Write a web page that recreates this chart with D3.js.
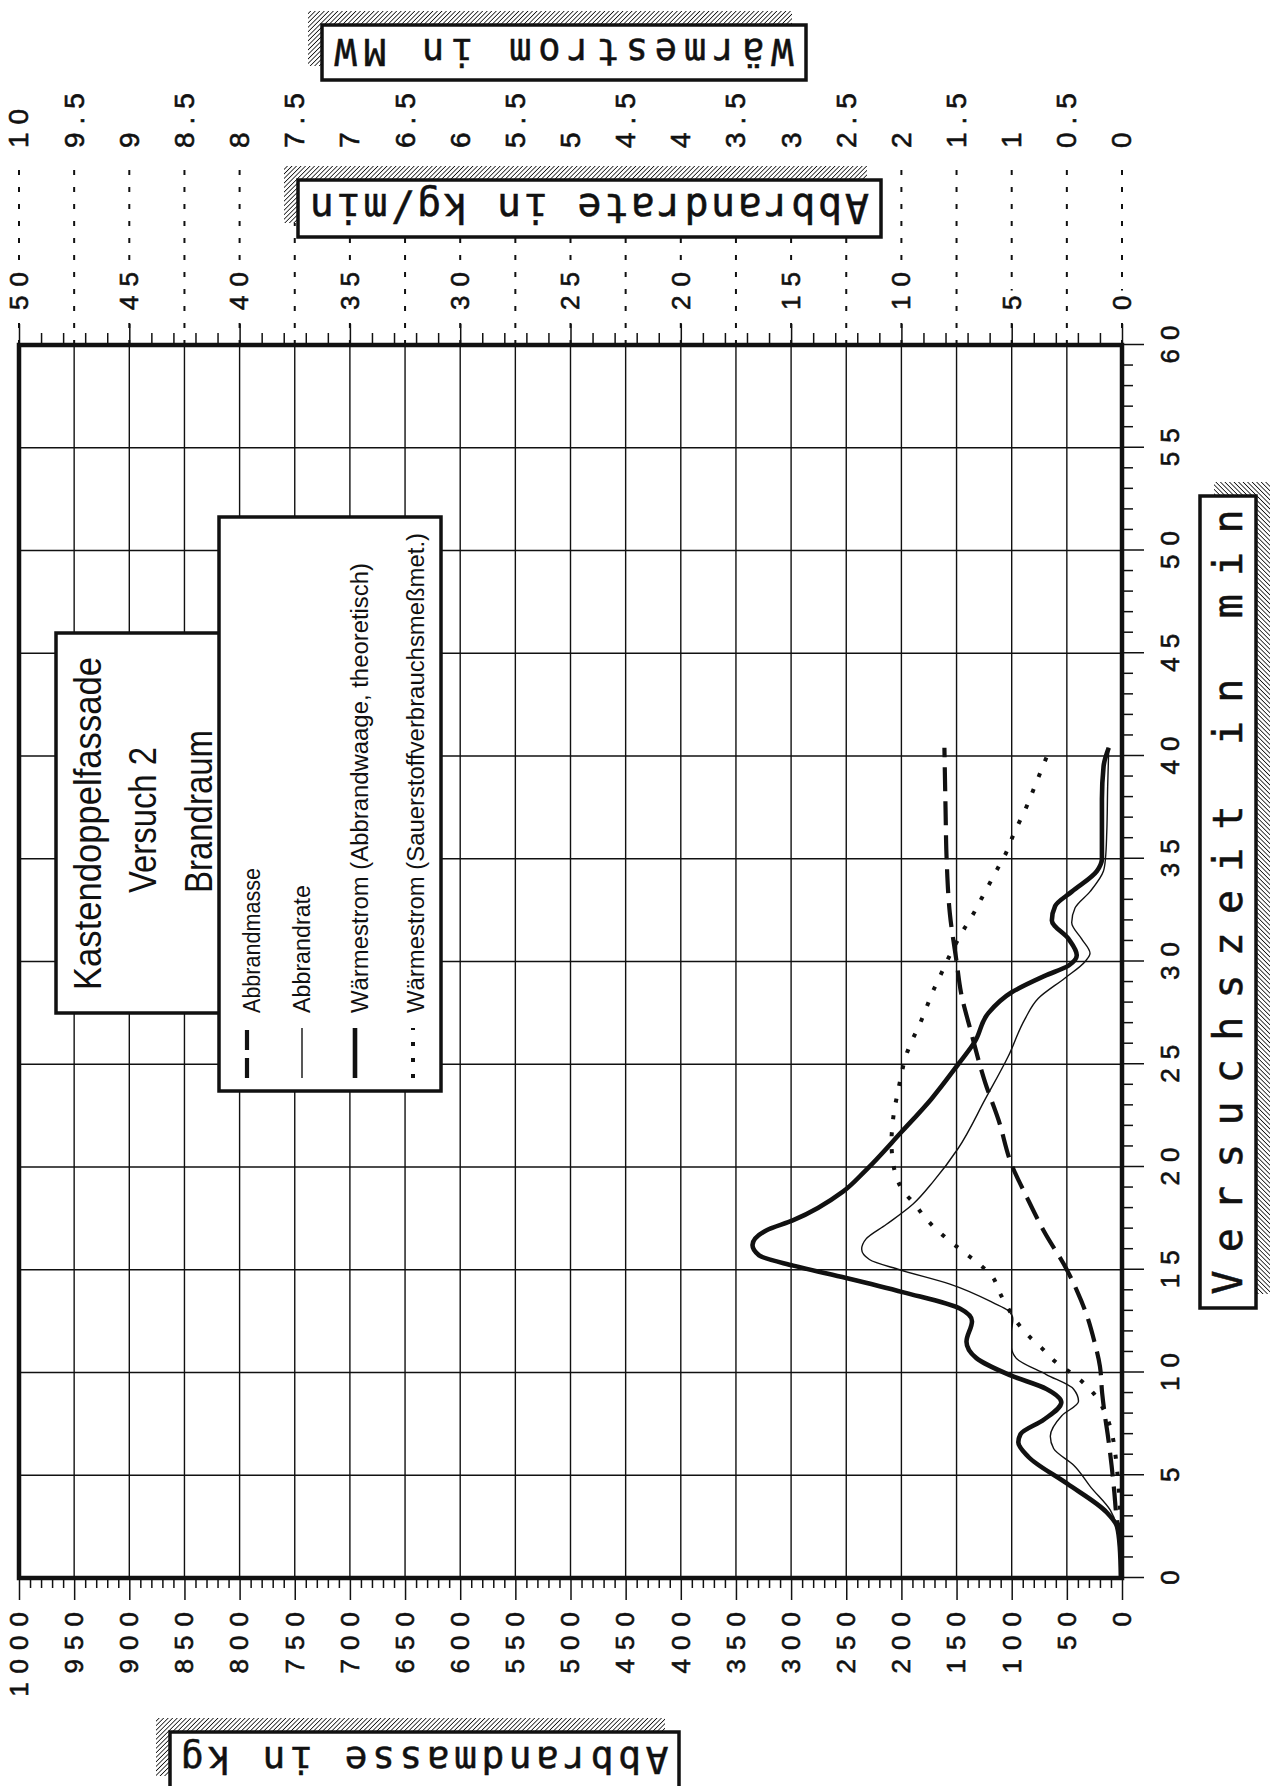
<!DOCTYPE html>
<html>
<head>
<meta charset="utf-8">
<script src="https://cdn.jsdelivr.net/npm/d3@7"></script>
<style>
  html, body { margin: 0; padding: 0; background: #fff; }
  svg { display: block; }
</style>
</head>
<body>
<svg id="chart" width="1275" height="1786"></svg>
<script>
// ---- Tick values -------------------------------------------------------
const timeTicks  = [0, 5, 10, 15, 20, 25, 30, 35, 40, 45, 50, 55, 60];
const massTicks  = [0, 50, 100, 150, 200, 250, 300, 350, 400, 450, 500,
                    550, 600, 650, 700, 750, 800, 850, 900, 950, 1000];
const rateTicks  = [0, 5, 10, 15, 20, 25, 30, 35, 40, 45, 50];
const powerTicks = [0, 0.5, 1, 1.5, 2, 2.5, 3, 3.5, 4, 4.5, 5, 5.5, 6, 6.5,
                    7, 7.5, 8, 8.5, 9, 9.5, 10];

// ---- Series: Abbrandmasse (kg) ------------------------------------------
const minutesMasse = [0, 2, 3, 4.2, 5.5, 7, 7.9, 9, 10.3, 11.5, 12.8, 14, 15,
                      16.9, 18.5, 20.1, 22.3, 24.1, 26.6, 28.5, 30, 32.3, 35, 37.5, 40.4];
const abbrandmasse = [0, 2, 5, 7, 9.5, 13, 15.5, 18, 20, 25, 32, 41, 50,
                      71, 86, 100, 112, 124, 137, 146, 150, 156, 159, 160, 161];

// ---- Series: Abbrandrate (kg/min) ---------------------------------------
const minutesRate = [0, 2.0, 3.3, 4.4, 5.5, 6.3, 6.9, 7.9, 8.6, 9.2, 9.9, 10.7,
                     11.2, 12.0, 12.6, 13.0, 13.4, 14.3, 15.0, 15.5, 16.0, 16.5,
                     17.2, 18.2, 19.3, 20.9, 23.3, 25.4, 27.2, 28.2, 29.2, 30.0,
                     30.4, 31.1, 31.9, 32.6, 33.4, 34.4, 35.0, 36.3, 38.5, 40.4];
const abbrandrate = [0.05, 0.15, 0.53, 1.4, 2.2, 3.1, 3.25, 2.73, 1.97, 2.2, 3.43, 4.8,
                     5.0, 5.0, 4.95, 5.15, 5.85, 7.8, 10.08, 11.45, 11.8, 11.6,
                     10.69, 9.47, 8.55, 7.43, 6.2, 5.15, 4.4, 3.8, 2.58, 1.67,
                     1.45, 1.83, 2.28, 2.13, 1.45, 0.84, 0.75, 0.69, 0.65, 0.6];

// ---- Series: Wärmestrom aus Abbrandwaage, theoretisch (MW) --------------
const minutesWaage = [0, 1.5, 2.5, 3.2, 4.6, 5.9, 6.6, 7.0, 7.7, 8.55, 9.2, 9.85,
                      10.7, 11.5, 12.5, 13.1, 13.9, 14.6, 15.2, 15.7, 16.2, 16.9,
                      17.4, 18.8, 19.8, 21.7, 23.3, 25.0, 26.1, 27.5, 28.5, 29.3,
                      29.8, 30.3, 31.1, 32.0, 32.7, 33.4, 34.4, 35.0, 37.9, 39.5, 40.4];
const waermestromWaage = [0.01, 0.02, 0.045, 0.14, 0.50, 0.85, 0.94, 0.92, 0.71, 0.55, 0.685, 1.005,
                          1.32, 1.41, 1.36, 1.466, 1.98, 2.50, 2.98, 3.29, 3.35, 3.23,
                          2.985, 2.53, 2.33, 2.00, 1.73, 1.485, 1.334, 1.21, 1.00, 0.70,
                          0.485, 0.41, 0.485, 0.636, 0.606, 0.455, 0.228, 0.182, 0.182, 0.167, 0.12];

// ---- Series: Wärmestrom aus Sauerstoffverbrauchsmessung (MW) ------------
const minutesO2 = [2.5, 3, 4, 5, 6, 7, 8, 9.0, 9.6, 10.6, 11.2, 11.8, 12.5, 13.1,
                   13.9, 14.7, 15.3, 15.8, 16.3, 16.9, 17.5, 18.2, 18.8, 19.6,
                   20.4, 21.2, 22.1, 22.9, 23.7, 24.5, 25.4, 26.2, 27.0, 27.8,
                   28.6, 29.4, 30.1, 31.6, 32.3, 33.1, 33.8, 34.6, 35.3, 36.1,
                   37.6, 38.4, 39.2, 40.0];
const waermestromO2 = [0.01, 0.015, 0.025, 0.04, 0.06, 0.09, 0.15, 0.26, 0.37, 0.62, 0.73, 0.85, 0.96, 1.03,
                       1.11, 1.18, 1.30, 1.42, 1.54, 1.67, 1.78, 1.88, 1.98, 2.05,
                       2.08, 2.09, 2.08, 2.06, 2.03, 2.00, 1.96, 1.90, 1.83, 1.77,
                       1.71, 1.64, 1.58, 1.43, 1.35, 1.27, 1.20, 1.12, 1.05, 0.99,
                       0.86, 0.80, 0.74, 0.68];

// ---- Legend entries ------------------------------------------------------
const legendLabels = ["Abbrandmasse", "Abbrandrate",
                      "Wärmestrom (Abbrandwaage, theoretisch)",
                      "Wärmestrom (Sauerstoffverbrauchsmeßmet.)"];

// ---------------------------------------------------------------------------
const svg = d3.select("#chart");
const W = 1233;   // time extent of the plot
const H = 1103;   // value extent of the plot
const INK = "#111";
const FONT = "'Liberation Sans', Arial, sans-serif";
const MONO = "'DejaVu Sans Mono', 'Liberation Mono', monospace";

// hatching for the shadow of the axis title boxes
const defs = svg.append("defs");
const pat = defs.append("pattern").attr("id", "hatch")
  .attr("patternUnits", "userSpaceOnUse").attr("width", 3.2).attr("height", 3.2)
  .attr("patternTransform", "rotate(45)");
pat.append("rect").attr("width", 3.2).attr("height", 3.2).attr("fill", "#fff");
pat.append("line").attr("x1", 0).attr("y1", 0).attr("x2", 0).attr("y2", 3.2)
  .attr("stroke", "#000").attr("stroke-width", 1.5);

// The sheet is printed in landscape: the plot is laid out with time along x
// and turned a quarter turn counter-clockwise onto the portrait page.
const g = svg.append("g").attr("transform", "translate(19,1578) rotate(-90)");

const x     = d3.scaleLinear().domain([0, 60]).range([0, W]);
const y     = d3.scaleLinear().domain([0, 1000]).range([H, 0]);
const yRate = d3.scaleLinear().domain([0, 50]).range([H, 0]);
const yPow  = d3.scaleLinear().domain([0, 10]).range([H, 0]);

// ---- grid ---------------------------------------------------------------
const grid = g.append("g").attr("stroke", INK).attr("stroke-width", 1.4);
grid.selectAll("line.gt").data(timeTicks).join("line")
  .attr("x1", d => x(d)).attr("x2", d => x(d)).attr("y1", 0).attr("y2", H);
grid.selectAll("line.gm").data(massTicks).join("line")
  .attr("y1", d => y(d)).attr("y2", d => y(d)).attr("x1", 0).attr("x2", W);

function styleAxis(sel, fs, ls) {
  sel.select(".domain").remove();
  sel.selectAll("line").attr("stroke", INK).attr("stroke-width", 1.5);
  sel.selectAll("text").attr("fill", INK).attr("font-family", FONT)
    .attr("font-size", fs).style("letter-spacing", ls + "px")
    .attr("stroke", INK).attr("stroke-width", 0.6);
}

// minor ticks
const minorT = g.append("g").attr("transform", `translate(0,${H})`)
  .call(d3.axisBottom(x).tickValues(d3.range(0, 61, 1).filter(d => d % 5)).tickSize(11).tickFormat(""));
styleAxis(minorT, 10, 0);
const minorM = g.append("g")
  .call(d3.axisLeft(y).tickValues(d3.range(0, 1001, 10).filter(d => d % 50)).tickSize(10).tickFormat(""));
styleAxis(minorM, 10, 0);
const minorR = g.append("g").attr("transform", `translate(${W},0)`)
  .call(d3.axisRight(yRate).tickValues(d3.range(0, 51, 1).filter(d => d % 5)).tickSize(12).tickFormat(""));
styleAxis(minorR, 10, 0);

// time axis (Versuchszeit)
const LS = 9;
const axT = g.append("g").attr("transform", `translate(0,${H})`)
  .call(d3.axisBottom(x).tickValues(timeTicks).tickSize(22).tickPadding(17).tickFormat(d3.format("d")));
styleAxis(axT, 26, LS);
axT.selectAll("text").attr("dx", LS / 2);

// mass axis (Abbrandmasse)
const axM = g.append("g")
  .call(d3.axisLeft(y).tickValues(massTicks).tickSize(22).tickPadding(12).tickFormat(d3.format("d")));
styleAxis(axM, 26, LS);
axM.selectAll("text").attr("dx", LS);

// dotted guide lines up to the power scale
g.append("g").selectAll("line").data(powerTicks).join("line")
  .attr("x1", W).attr("x2", W + 182)
  .attr("y1", d => yPow(d)).attr("y2", d => yPow(d))
  .attr("stroke", INK).attr("stroke-width", 2).attr("stroke-dasharray", "5,12");

// rate axis (Abbrandrate)
const axR = g.append("g").attr("transform", `translate(${W},0)`)
  .call(d3.axisRight(yRate).tickValues(rateTicks).tickSize(21).tickPadding(14).tickFormat(d3.format("d")));
styleAxis(axR, 26, LS);
axR.selectAll(".tick").each(function () {
  const t = d3.select(this);
  const bb = t.select("text").node().getBBox();
  t.insert("rect", "text").attr("x", 22).attr("y", bb.y - 3)
    .attr("width", bb.x + bb.width - 22 - 4).attr("height", bb.height + 6).attr("fill", "#fff");
});

// power axis (Wärmestrom)
const axP = g.append("g").attr("transform", `translate(${W + 197},0)`)
  .call(d3.axisRight(yPow).tickValues(powerTicks).tickSize(0).tickPadding(0).tickFormat(d => String(d)));
styleAxis(axP, 28, 8);

// ---- curves ---------------------------------------------------------------
function curve(times, values, scale) {
  return d3.line().x((d, i) => x(times[i])).y(d => scale(d)).curve(d3.curveMonotoneX)(values);
}
const curves = g.append("g").attr("fill", "none").attr("stroke", INK);
curves.append("path").attr("d", curve(minutesO2, waermestromO2, yPow))
  .attr("stroke-width", 4).attr("stroke-dasharray", "4,13");
curves.append("path").attr("d", curve(minutesRate, abbrandrate, yRate))
  .attr("stroke-width", 1.4);
curves.append("path").attr("d", curve(minutesMasse, abbrandmasse, y))
  .attr("stroke-width", 4.2).attr("stroke-dasharray", "24,10");
curves.append("path").attr("d", curve(minutesWaage, waermestromWaage, yPow))
  .attr("stroke-width", 4.6).attr("stroke-linejoin", "round");

// ---- title box ------------------------------------------------------------
const tb = g.append("g");
tb.append("rect").attr("x", 565).attr("y", 37).attr("width", 380).attr("height", 164)
  .attr("fill", "#fff").attr("stroke", INK).attr("stroke-width", 3.5);
const titleLines = [
  { text: "Kastendoppelfassade", u: 588, v: 82, len: 333 },
  { text: "Versuch 2",           u: 685, v: 137, len: 146 },
  { text: "Brandraum",           u: 685, v: 193, len: 163 }
];
tb.selectAll("text").data(titleLines).join("text")
  .attr("x", d => d.u).attr("y", d => d.v)
  .attr("textLength", d => d.len).attr("lengthAdjust", "spacingAndGlyphs")
  .attr("font-family", FONT).attr("font-size", 38).attr("fill", INK)
  .text(d => d.text);

// ---- legend -----------------------------------------------------------------
const lg = g.append("g");
lg.append("rect").attr("x", 487).attr("y", 200).attr("width", 574).attr("height", 222)
  .attr("fill", "#fff").attr("stroke", INK).attr("stroke-width", 3.5);
const legendRows = [
  { v: 241, sv: 228, len: 145, w: 4.2, dash: "20,8" },
  { v: 291, sv: 283, len: 128, w: 1.4, dash: null },
  { v: 349, sv: 336, len: 450, w: 4.6, dash: null },
  { v: 405, sv: 394, len: 480, w: 4,   dash: "4,12" }
];
legendRows.forEach((r, i) => {
  lg.append("line").attr("x1", 500).attr("x2", 550).attr("y1", r.sv).attr("y2", r.sv)
    .attr("stroke", INK).attr("stroke-width", r.w).attr("stroke-dasharray", r.dash);
  lg.append("text").attr("x", 565).attr("y", r.v)
    .attr("textLength", r.len).attr("lengthAdjust", "spacingAndGlyphs")
    .attr("font-family", FONT).attr("font-size", 23).attr("fill", INK)
    .text(legendLabels[i]);
});

// ---- frame ------------------------------------------------------------------
g.append("rect").attr("x", 0).attr("y", 0).attr("width", W).attr("height", H)
  .attr("fill", "none").attr("stroke", INK).attr("stroke-width", 4.5);

// ---- axis titles in hatched-shadow boxes ------------------------------------
function titleBox(cu, cv, len, thick, rot, label, fs, tl) {
  const b = g.append("g").attr("transform", `translate(${cu},${cv}) rotate(${rot})`);
  b.append("rect").attr("x", -len / 2 + 14).attr("y", -thick / 2 + 14)
    .attr("width", len).attr("height", thick).attr("fill", "url(#hatch)");
  b.append("rect").attr("x", -len / 2).attr("y", -thick / 2)
    .attr("width", len).attr("height", thick)
    .attr("fill", "#fff").attr("stroke", INK).attr("stroke-width", 3.5);
  b.append("text").attr("x", 0).attr("y", 0).attr("dy", "0.36em")
    .attr("text-anchor", "middle").attr("textLength", tl).attr("lengthAdjust", "spacing")
    .attr("font-family", MONO).attr("font-size", fs).attr("fill", INK)
    .attr("stroke", INK).attr("stroke-width", 0.5)
    .text(label);
}
titleBox(676, 1209, 812, 56, 0, "Versuchszeit in min", 40, 785);
titleBox(1369.5, 570.5, 583, 57, -90, "Abbrandrate in kg/min", 40, 559);
titleBox(1525.5, 545, 484, 55, -90, "Wärmestrom in MW", 37, 459);
titleBox(-183, 405.5, 509, 58, -90, "Abbrandmasse in kg", 38, 488);
</script>
</body>
</html>
